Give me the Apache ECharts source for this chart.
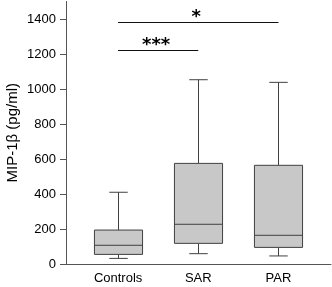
<!DOCTYPE html>
<html>
<head>
<meta charset="utf-8">
<script src="https://cdn.jsdelivr.net/npm/echarts@6/dist/echarts.min.js"></script>
<style>
  html, body { margin: 0; padding: 0; background: #fff; }
  #chart { width: 332px; height: 287px; }
</style>
</head>
<body>
<div id="chart"></div>
<script>
// data
var categories = ['Controls', 'SAR', 'PAR'];
var whiskerLow = [32, 59, 46];
var q1 = [55, 118, 95];
var median = [107, 227, 164];
var q3 = [194, 575, 564];
var whiskerHigh = [410, 1053, 1038];
var yTicks = [0, 200, 400, 600, 800, 1000, 1200, 1400];

// significance brackets
var sigFrom = [0, 0];
var sigTo = [2, 1];
var sigLevel = [1383, 1221];
var sigLabel = ['*', '***'];

var chartDom = document.getElementById('chart');
var myChart = echarts.init(chartDom);

var boxData = categories.map(function (c, i) {
  return [i, whiskerLow[i], q1[i], median[i], q3[i], whiskerHigh[i]];
});
var sigData = sigFrom.map(function (f, i) {
  return [f, sigTo[i], sigLevel[i], sigLabel[i]];
});

var lineColor = '#404040';
var font = 'Liberation Sans, Arial, sans-serif';

var option = {
  animation: false,
  grid: [
    { left: 66, right: 1, top: 1.5, bottom: 23, outerBoundsMode: 'none' },
    { left: 78, right: 13.5, top: 1.5, bottom: 23, outerBoundsMode: 'none' }
  ],
  xAxis: [
    {
      gridIndex: 0, type: 'value', min: 0, max: 1,
      axisLine: { show: true, lineStyle: { color: '#555', width: 1 } },
      axisTick: { show: false }, axisLabel: { show: false }, splitLine: { show: false }
    },
    {
      gridIndex: 1, type: 'category', data: categories,
      axisLine: { show: false }, axisTick: { show: false },
      axisLabel: { color: '#000', fontSize: 13, fontFamily: font, margin: 8 }
    }
  ],
  yAxis: [
    {
      gridIndex: 0, type: 'value', min: 0, max: 1500,
      name: 'MIP-1\u03b2 (pg/ml)', nameLocation: 'middle', nameGap: 46,
      nameMoveOverlap: false,
      nameTextStyle: { color: '#000', fontSize: 15, fontFamily: font },
      axisLine: { show: true, lineStyle: { color: '#555', width: 1 } },
      axisTick: { show: true, length: 6, customValues: yTicks, lineStyle: { color: '#555' } },
      axisLabel: {
        color: '#000', fontSize: 13, fontFamily: font, margin: 10, customValues: yTicks,
        formatter: function (v) { return String(v); }
      },
      splitLine: { show: false }
    },
    {
      gridIndex: 1, type: 'value', min: 0, max: 1500, show: false,
      splitLine: { show: false }
    }
  ],
  series: [
    {
      type: 'custom',
      xAxisIndex: 1, yAxisIndex: 1,
      data: boxData,
      renderItem: function (params, api) {
        var x = api.value(0);
        var catW = api.size([1, 0])[0];
        var half = catW * 0.3;
        var cap = catW * 0.115;
        var pLow = api.coord([x, api.value(1)]);
        var pQ1 = api.coord([x, api.value(2)]);
        var pMed = api.coord([x, api.value(3)]);
        var pQ3 = api.coord([x, api.value(4)]);
        var pHigh = api.coord([x, api.value(5)]);
        var cx = Math.round(pQ1[0]) + 0.5;
        var ls = { stroke: lineColor, lineWidth: 1 };
        return {
          type: 'group',
          children: [
            { type: 'line', shape: { x1: cx, y1: pHigh[1], x2: cx, y2: pQ3[1] }, style: ls },
            { type: 'line', shape: { x1: cx, y1: pLow[1], x2: cx, y2: pQ1[1] }, style: ls },
            { type: 'line', shape: { x1: cx - cap, y1: pHigh[1], x2: cx + cap, y2: pHigh[1] }, style: ls },
            { type: 'line', shape: { x1: cx - cap, y1: pLow[1], x2: cx + cap, y2: pLow[1] }, style: ls },
            {
              type: 'rect',
              shape: { x: cx - half, y: pQ3[1], width: half * 2, height: pQ1[1] - pQ3[1] },
              style: { fill: '#c8c8c8', stroke: lineColor, lineWidth: 1 }
            },
            { type: 'line', shape: { x1: cx - half, y1: pMed[1], x2: cx + half, y2: pMed[1] }, style: ls }
          ]
        };
      }
    },
    {
      type: 'custom',
      xAxisIndex: 1, yAxisIndex: 1,
      data: sigData,
      renderItem: function (params, api) {
        var a = api.coord([api.value(0), api.value(2)]);
        var b = api.coord([api.value(1), api.value(2)]);
        var y = Math.round(a[1]) + 0.5;
        return {
          type: 'group',
          children: [
            { type: 'line', shape: { x1: a[0], y1: y, x2: b[0], y2: y }, style: { stroke: '#111', lineWidth: 1.2 } },
            {
              type: 'text',
              style: {
                text: sigLabel[params.dataIndex],
                x: (a[0] + b[0]) / 2 - 2, y: y + 4,
                align: 'center', verticalAlign: 'bottom',
                fill: '#000', font: 'bold 18px DejaVu Sans'
              }
            }
          ]
        };
      }
    }
  ]
};

option && myChart.setOption(option);
</script>
</body>
</html>
